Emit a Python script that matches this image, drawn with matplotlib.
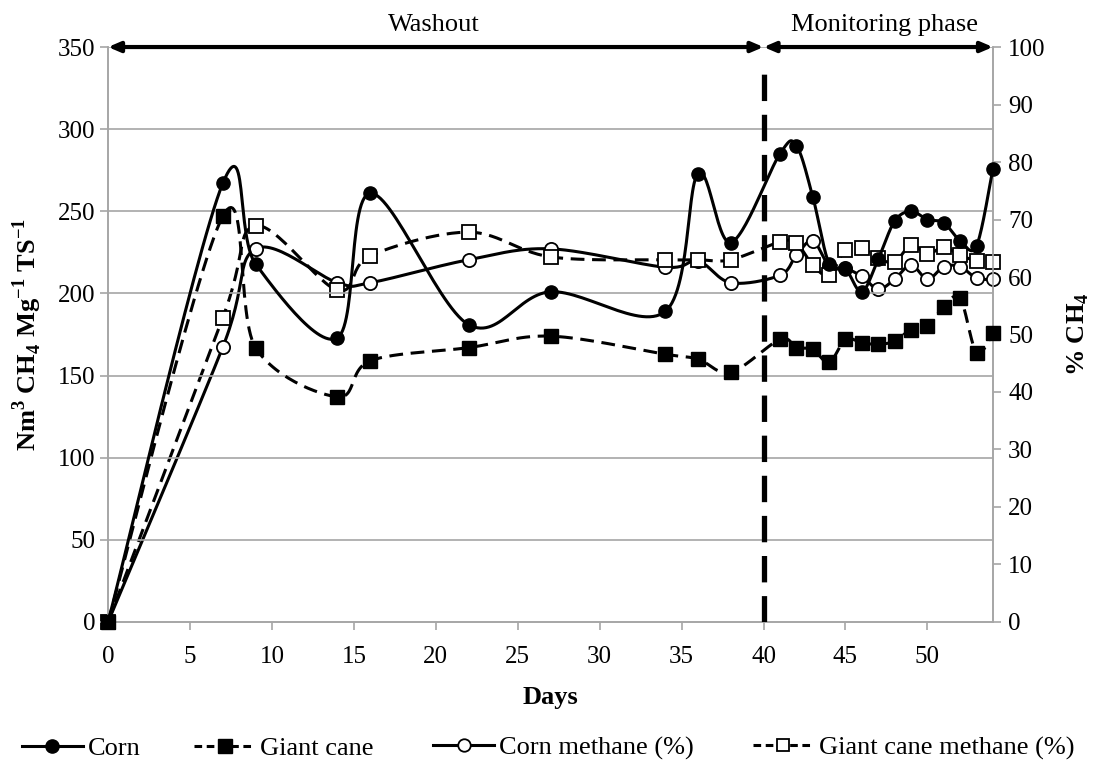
import numpy as np
import matplotlib
matplotlib.use("Agg")
import matplotlib.pyplot as plt
from matplotlib.lines import Line2D

plt.rcParams["font.family"] = ["Liberation Serif", "DejaVu Serif"]
plt.rcParams["mathtext.fontset"] = "custom"
plt.rcParams["mathtext.rm"] = "Liberation Serif"
plt.rcParams["mathtext.bf"] = "Liberation Serif:bold"

# Sampling days
days = [0, 7, 9, 14, 16, 22, 27, 34, 36, 38, 41, 42, 43, 44, 45, 46, 47, 48, 49,
        50, 51, 52, 53, 54]

# Specific methane production (Nm3 CH4 Mg-1 TS-1)
corn = [0, 267, 218, 173, 261, 181, 201, 189, 273, 231, 285, 290, 259, 218, 215,
        201, 221, 244, 250, 245, 243, 232, 229, 276]
giant_cane = [0, 247, 167, 137, 159, 167, 174, 163, 160, 152, 172, 167, 166, 158,
              172, 170, 169, 171, 178, 180, 192, 197, 164, 176]

# Methane content of biogas (%)
corn_ch4 = [0, 47.8, 64.9, 59.0, 59.0, 63.0, 64.9, 61.7, 62.8, 59.0, 60.3, 63.8,
            66.3, 62.0, 61.5, 60.1, 57.9, 59.6, 62.1, 59.6, 61.8, 61.8, 59.8, 59.6]
giant_cane_ch4 = [0, 52.9, 68.9, 57.7, 63.7, 67.8, 63.5, 63.0, 63.0, 63.0, 66.1,
                  65.9, 62.1, 60.3, 64.7, 65.0, 63.3, 62.6, 65.6, 64.0, 65.2, 63.8,
                  62.8, 62.6]

labels = ["Corn", "Giant cane", "Corn methane (%)", "Giant cane methane (%)"]
phase_labels = ["Washout", "Monitoring phase"]
phase_change_day = 40


def smooth(x, y, n=30):
    """Catmull-Rom style Bezier smoothing through every point."""
    x = np.asarray(x, float)
    y = np.asarray(y, float)
    pts = np.column_stack([x, y])
    out = [pts[0]]
    t = np.linspace(0, 1, n)[1:, None]
    for i in range(len(pts) - 1):
        p0 = pts[i - 1] if i > 0 else pts[i]
        p1 = pts[i]
        p2 = pts[i + 1]
        p3 = pts[i + 2] if i + 2 < len(pts) else pts[i + 1]
        c1 = p1 + (p2 - p0) / 6.0
        c2 = p2 - (p3 - p1) / 6.0
        seg = ((1 - t) ** 3) * p1 + 3 * ((1 - t) ** 2) * t * c1 \
            + 3 * (1 - t) * t ** 2 * c2 + t ** 3 * p2
        out.extend(seg)
    out = np.array(out)
    return out[:, 0], out[:, 1]


TICK_FS = 18
TEXT_FS = 19

fig = plt.figure(figsize=(11.06, 7.76), dpi=100)
ax = fig.add_axes([0.0977, 0.1985, 0.8001, 0.7409])
ax2 = ax.twinx()

grid_c = "#a6a6a6"
lw = 2.2
dash = (4.5, 2.5)

# grid
for v in range(50, 351, 50):
    ax.axhline(v, color=grid_c, lw=1.2, zorder=0)

# left axis series
sx, sy = smooth(days, corn)
ax.plot(sx, sy, color="black", lw=lw, zorder=3)
ax.plot(days, corn, ls="none", marker="o", ms=9.5, mfc="black", mec="black",
        zorder=4, clip_on=False)

sx, sy = smooth(days, giant_cane)
ax.plot(sx, sy, color="black", lw=lw, ls=(0, dash), zorder=3)
ax.plot(days, giant_cane, ls="none", marker="s", ms=9.5, mfc="black", mec="black",
        zorder=4, clip_on=False)

# right axis series
sx, sy = smooth(days, corn_ch4)
ax2.plot(sx, sy, color="black", lw=lw, zorder=3)
ax2.plot(days, corn_ch4, ls="none", marker="o", ms=9.5, mfc="white", mec="black",
         mew=1.3, zorder=4, clip_on=False)

sx, sy = smooth(days, giant_cane_ch4)
ax2.plot(sx, sy, color="black", lw=lw, ls=(0, dash), zorder=3)
ax2.plot(days, giant_cane_ch4, ls="none", marker="s", ms=9.5, mfc="white",
         mec="black", mew=1.3, zorder=4, clip_on=False)

# phase boundary
ax.plot([phase_change_day, phase_change_day], [0, 340], color="black", lw=3.8,
        ls=(0, (5, 2.6)), zorder=5)

ax.set_xlim(0, 54)
ax.set_ylim(0, 350)
ax2.set_ylim(0, 100)
ax.set_xticks(range(0, 51, 5))
ax.set_yticks(range(0, 351, 50))
ax2.set_yticks(range(0, 101, 10))

for a in (ax, ax2):
    for s in a.spines.values():
        s.set_color(grid_c)
        s.set_linewidth(1.2)
    a.spines["top"].set_visible(False)
    a.tick_params(colors=grid_c, labelcolor="black", labelsize=TICK_FS, length=6,
                  width=1.2)
ax.tick_params(axis="x", pad=11)
ax.tick_params(axis="y", pad=3)
ax2.tick_params(axis="y", pad=5)
ax.set_zorder(ax2.get_zorder() + 1)
ax.patch.set_visible(False)

ax.set_xlabel("Days", fontsize=TEXT_FS, fontweight="bold", labelpad=13)
ax.set_ylabel(r"Nm$^\mathbf{3}$ CH$_\mathbf{4}$ Mg$^\mathbf{-1}$ TS$^\mathbf{-1}$",
              fontsize=TEXT_FS, fontweight="bold", labelpad=10)
ax2.set_ylabel(r"% CH$_\mathbf{4}$", fontsize=TEXT_FS, fontweight="bold",
               labelpad=14)

# phase arrows and labels
arrow_kw = dict(arrowstyle="<|-|>,head_length=0.7,head_width=0.3", color="black",
                lw=3, shrinkA=0, shrinkB=0)
ax.annotate("", xy=(0, 350), xytext=(phase_change_day, 350), arrowprops=arrow_kw,
            annotation_clip=False, zorder=6)
ax.annotate("", xy=(phase_change_day, 350), xytext=(54, 350), arrowprops=arrow_kw,
            annotation_clip=False, zorder=6)
ax.text(19.9, 357, phase_labels[0], ha="center", va="bottom", fontsize=TEXT_FS)
ax.text(47.4, 357, phase_labels[1], ha="center", va="bottom", fontsize=TEXT_FS)

# legend, one entry per block along the bottom edge
handles = [
    Line2D([], [], color="black", lw=lw, marker="o", ms=9.5, mfc="black"),
    Line2D([], [], color="black", lw=lw, ls=(0, (2.5, 1.5)), marker="s", ms=9.5,
           mfc="black"),
    Line2D([], [], color="black", lw=lw, marker="o", ms=9, mfc="white", mew=1.3),
    Line2D([], [], color="black", lw=lw, ls=(0, (2.5, 1.5)), marker="s", ms=9,
           mfc="white", mew=1.3),
]
legend_x = [0.015, 0.171, 0.387, 0.676]
for h, lab, lx in zip(handles, labels, legend_x):
    fig.legend([h], [lab], loc="center left", bbox_to_anchor=(lx, 0.036),
               frameon=False, fontsize=TEXT_FS, handlelength=2.3,
               handletextpad=0.2, borderpad=0.2, borderaxespad=0)

fig.savefig("out.png", dpi=100)
